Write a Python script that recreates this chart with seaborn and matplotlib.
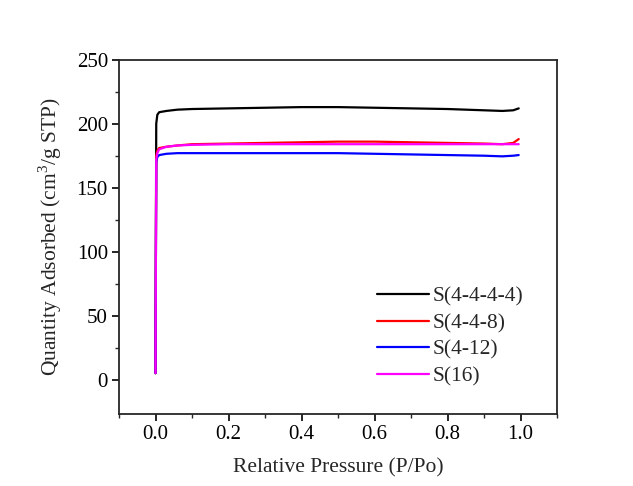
import seaborn as sns
import matplotlib.pyplot as plt
import pandas as pd

pressure = [0.0, 0.002, 0.005, 0.01, 0.03, 0.06, 0.1, 0.2, 0.3, 0.4,
            0.5, 0.6, 0.7, 0.8, 0.9, 0.95, 0.98, 0.995]
s4444 = [5, 200, 207, 209, 210, 211, 211.5, 212, 212.5, 213,
         213, 212.5, 212, 211.5, 210.5, 210, 210.5, 212]
s448 = [5, 175, 179, 181, 182, 183, 184, 184.5, 185, 185.5,
        186, 186, 185.5, 185, 184.5, 184, 185, 188]
s412 = [5, 170, 174, 175.5, 176.5, 177, 177, 177, 177, 177,
        177, 176.5, 176, 175.5, 175, 174.5, 175, 175.5]
s16 = [5, 172, 177, 180, 182, 183, 183.5, 184, 184, 184,
       184, 184, 184, 184, 184, 184, 184, 184]
names = ['S(4-4-4-4)', 'S(4-4-8)', 'S(4-12)', 'S(16)']
colors = ['black', 'red', 'blue', 'magenta']

frames = []
for name, vals in zip(names, [s4444, s448, s412, s16]):
    frames.append(pd.DataFrame({'P': pressure, 'Q': vals, 'sample': name}))
df = pd.concat(frames, ignore_index=True)

sns.set_style('ticks')
plt.rcParams['font.family'] = ['Liberation Serif', 'DejaVu Serif']
plt.rcParams['mathtext.fontset'] = 'custom'
plt.rcParams['mathtext.rm'] = 'Liberation Serif'
plt.rcParams['axes.linewidth'] = 1.3

fig = plt.figure(figsize=(6.33, 4.86), dpi=100)
ax = fig.add_axes([0.188, 0.148, 0.692, 0.729])
sns.lineplot(data=df, x='P', y='Q', hue='sample', palette=colors,
             hue_order=names, sort=False, estimator=None, linewidth=1.6, ax=ax)

ax.set_xlim(-0.1, 1.1)
ax.set_ylim(-27, 250)
ax.set_xticks([0.0, 0.2, 0.4, 0.6, 0.8, 1.0])
ax.set_xticklabels(['0.0', '0.2', '0.4', '0.6', '0.8', '1.0'])
ax.set_xticks([-0.1, 0.1, 0.3, 0.5, 0.7, 0.9, 1.1], minor=True)
ax.set_yticks([0, 50, 100, 150, 200, 250])
ax.set_yticks([25, 75, 125, 175, 225], minor=True)
ax.tick_params(which='major', direction='out', length=5, width=1.2, labelsize=15,
               colors='black', pad=3)
ax.tick_params(which='minor', direction='out', length=3, width=1.0)
ax.set_xlabel('Relative Pressure (P/Po)', fontsize=15.5, labelpad=10)
ax.set_ylabel('Quantity Adsorbed (cm$^\\mathregular{3}$/g STP)', fontsize=15.5, labelpad=9)

ax.legend(frameon=False, loc='upper left', bbox_to_anchor=(0.545, 0.415),
          fontsize=15.5, handlelength=2.4, handletextpad=0.2, labelspacing=0.31)

fig.savefig('out.png', dpi=100)
